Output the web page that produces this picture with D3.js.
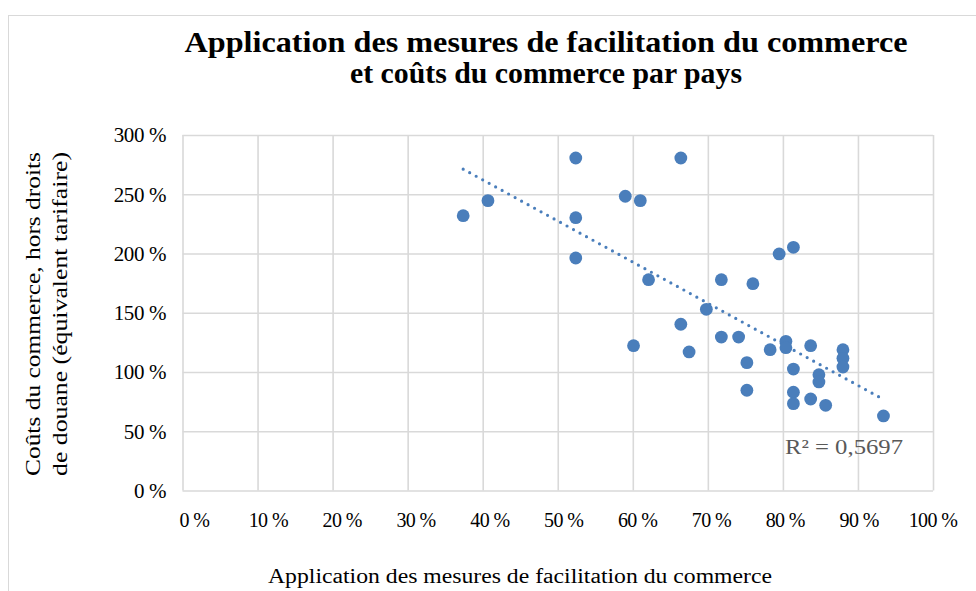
<!DOCTYPE html>
<html>
<head>
<meta charset="utf-8">
<script src="https://cdn.jsdelivr.net/npm/d3@7"></script>
<style>
  body { margin: 0; background: #fff; }
  svg text { font-family: "Liberation Serif", "Times New Roman", serif; }
</style>
</head>
<body>
<div id="chart"></div>
<script>
// values (percent)
var applicationRate = [37.4, 40.7, 52.4, 66.4, 59.0, 61.0, 52.4, 52.4, 79.5, 81.4, 62.1, 71.8, 76.0, 69.8, 66.4, 60.1, 67.5, 71.8,
  74.1, 75.2, 75.2, 78.3, 80.4, 80.4, 83.7, 81.4, 88.0, 88.0, 88.0, 84.8, 84.8, 81.4, 81.4, 83.7, 85.7, 93.4];
var tradeCost = [231.9, 244.6, 280.6, 280.6, 248.3, 244.6, 230.2, 196.2, 199.6, 205.2, 177.9, 177.9, 174.5, 152.9, 140.3, 122.2, 116.9, 129.5,
  129.5, 107.9, 84.6, 118.8, 125.9, 120.5, 122.2, 102.5, 118.8, 111.5, 104.2, 97.7, 91.6, 82.9, 73.3, 77.2, 71.9, 62.9];
var xTicks = [0, 10, 20, 30, 40, 50, 60, 70, 80, 90, 100];
var yTicks = [0, 50, 100, 150, 200, 250, 300];
var titleLines = ["Application des mesures de facilitation du commerce", "et coûts du commerce par pays"];
var xTitle = "Application des mesures de facilitation du commerce";
var yTitleLines = ["Coûts du commerce, hors droits", "de douane (équivalent tarifaire)"];
var r2Label = "R² = 0,5697";

var width = 976, height = 591;
var plotLeft = 182.5, plotRight = 933, plotTop = 135, plotBottom = 490.5;
var blue = "#4a7ebb", grid = "#d9d9d9";
var serif = "'Liberation Serif', 'Times New Roman', serif";

var points = applicationRate.map(function (v, i) { return { x: v, y: tradeCost[i] }; });

var x = d3.scaleLinear().domain([0, 100]).range([plotLeft, plotRight]);
var y = d3.scaleLinear().domain([0, 300]).range([plotBottom, plotTop]);

var svg = d3.select("#chart").append("svg")
  .attr("width", width)
  .attr("height", height)
  .attr("font-family", serif);

// chart frame (runs off the right / bottom edge)
svg.append("rect")
  .attr("x", 8.5).attr("y", 15.5)
  .attr("width", 1000).attr("height", 700)
  .attr("fill", "#fff")
  .attr("stroke", grid).attr("stroke-width", 1);

// title
svg.selectAll(".title")
  .data(titleLines)
  .enter().append("text")
  .attr("class", "title")
  .attr("x", 546)
  .attr("y", function (d, i) { return 52 + i * 31; })
  .attr("text-anchor", "middle")
  .attr("font-size", 30)
  .attr("font-weight", "bold")
  .attr("textLength", function (d, i) { return i === 0 ? 723 : 392; })
  .attr("lengthAdjust", "spacingAndGlyphs")
  .text(function (d) { return d; });

// grid
var gx = d3.axisBottom(x).tickValues(xTicks).tickSize(-(plotBottom - plotTop)).tickFormat("");
svg.append("g")
  .attr("transform", "translate(0," + plotBottom + ")")
  .call(gx)
  .call(function (g) {
    g.select(".domain").remove();
    g.selectAll("line").attr("stroke", grid).attr("stroke-width", 1.6);
  });

var gy = d3.axisLeft(y).tickValues(yTicks).tickSize(-(plotRight - plotLeft)).tickFormat("");
svg.append("g")
  .attr("transform", "translate(" + plotLeft + ",0)")
  .call(gy)
  .call(function (g) {
    g.select(".domain").remove();
    g.selectAll("line").attr("stroke", grid).attr("stroke-width", 1.6);
  });

// tick labels
svg.append("g")
  .selectAll("text")
  .data(xTicks)
  .enter().append("text")
  .attr("x", function (d) { return x(d) + (1 - d / 100) * 12; })
  .attr("y", 527)
  .attr("text-anchor", "middle")
  .attr("font-size", 20)
  .attr("letter-spacing", -0.6)
  .text(function (d) { return d + " %"; });

svg.append("g")
  .selectAll("text")
  .data(yTicks)
  .enter().append("text")
  .attr("x", 166)
  .attr("y", function (d) { return y(d); })
  .attr("dy", "0.35em")
  .attr("text-anchor", "end")
  .attr("font-size", 21)
  .attr("letter-spacing", -0.4)
  .text(function (d) { return d + " %"; });

// axis titles
svg.append("text")
  .attr("x", 520)
  .attr("y", 583)
  .attr("text-anchor", "middle")
  .attr("font-size", 20)
  .attr("textLength", 504)
  .attr("lengthAdjust", "spacingAndGlyphs")
  .text(xTitle);

svg.selectAll(".ytitle")
  .data(yTitleLines)
  .enter().append("text")
  .attr("class", "ytitle")
  .attr("transform", function (d, i) { return "translate(" + (40 + i * 27) + ",314) rotate(-90)"; })
  .attr("text-anchor", "middle")
  .attr("font-size", 20)
  .attr("textLength", 324)
  .attr("lengthAdjust", "spacingAndGlyphs")
  .text(function (d) { return d; });

// linear trend line (least squares)
var mx = d3.mean(points, function (d) { return d.x; });
var my = d3.mean(points, function (d) { return d.y; });
var sxy = d3.sum(points, function (d) { return (d.x - mx) * (d.y - my); });
var sxx = d3.sum(points, function (d) { return (d.x - mx) * (d.x - mx); });
var slope = sxy / sxx, icpt = my - slope * mx;
var ext = d3.extent(points, function (d) { return d.x; });

svg.append("path")
  .datum(ext.map(function (v) { return { x: v, y: icpt + slope * v }; }))
  .attr("d", d3.line().x(function (d) { return x(d.x); }).y(function (d) { return y(d.y); }))
  .attr("fill", "none")
  .attr("stroke", blue)
  .attr("stroke-width", 3.2)
  .attr("stroke-linecap", "round")
  .attr("stroke-dasharray", "0 7.4");

// points
svg.append("g")
  .selectAll("circle")
  .data(points)
  .enter().append("circle")
  .attr("cx", function (d) { return x(d.x); })
  .attr("cy", function (d) { return y(d.y); })
  .attr("r", 6.4)
  .attr("fill", blue);

// R² label
svg.append("text")
  .attr("x", 785)
  .attr("y", 454)
  .attr("font-size", 22)
  .attr("fill", "#595959")
  .attr("textLength", 118)
  .attr("lengthAdjust", "spacingAndGlyphs")
  .text(r2Label);
</script>
</body>
</html>
